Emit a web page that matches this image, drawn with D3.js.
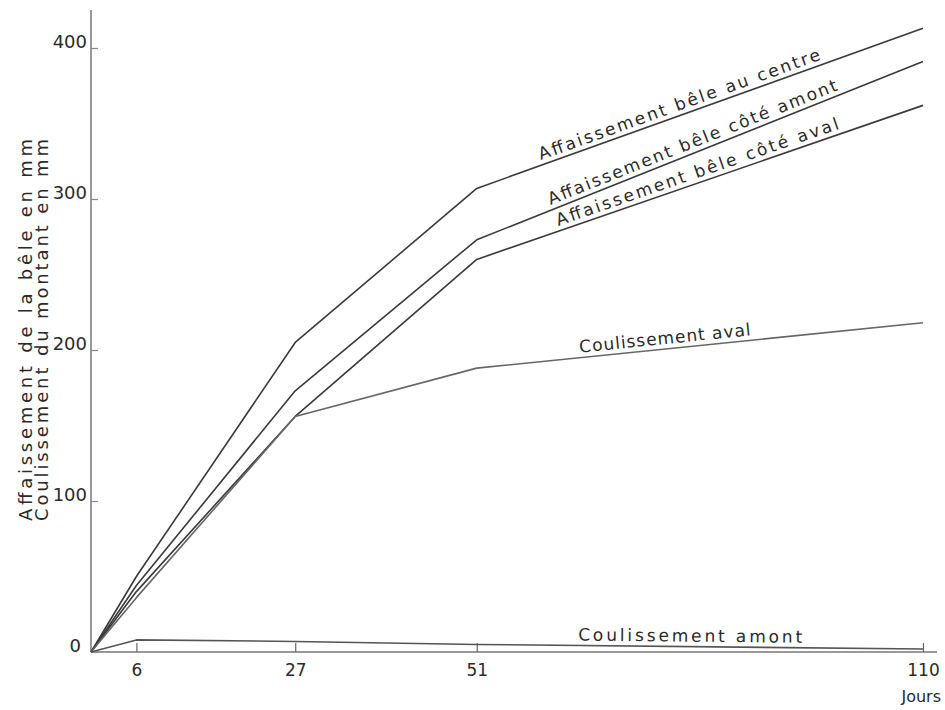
<!DOCTYPE html>
<html>
<head>
<meta charset="utf-8">
<script src="https://cdn.jsdelivr.net/npm/d3@7"></script>
<style>
  body { margin: 0; background: #fff; }
  svg text { font-family: "DejaVu Sans", sans-serif; fill: #2a2a2a; }
</style>
</head>
<body>
<div id="chart"></div>
<script>
// days on the x axis
const days = [0, 6, 27, 51, 110];
const xTicks = [6, 27, 51, 110];
const yTicks = [0, 100, 200, 300, 400];

// values in mm
const affCentre = [0, 50, 205, 307, 413];
const affAmont = [0, 44, 173, 273, 391];
const affAval = [0, 40, 156, 260, 362];
const coulAval = [0, 36, 156, 188, 218];
const coulAmont = [0, 8, 7, 5, 2];

const series = [
    { name: 'Affaissement bêle au centre', values: affCentre, color: '#3a3a3a', labelDay: 59.7, labelLen: 298 },
    { name: 'Affaissement bêle côté amont', values: affAmont, color: '#3a3a3a', labelDay: 61, labelLen: 310 },
    { name: 'Affaissement bêle côté aval', values: affAval, color: '#3a3a3a', labelDay: 62, labelLen: 298 },
    { name: 'Coulissement aval', values: coulAval, color: '#666', labelDay: 64.7, labelLen: 172 },
    { name: 'Coulissement amont', values: coulAmont, color: '#555', labelDay: 64.4, labelLen: 224 }
];

const width = 945, height = 710;
const svg = d3.select('#chart').append('svg')
    .attr('width', width)
    .attr('height', height);

const x = d3.scaleLinear().domain([0, 110]).range([91, 923]);
const y = d3.scaleLinear().domain([0, 400]).range([652, 48]);

// axes lines
svg.append('line')
    .attr('x1', x(0)).attr('x2', x(110) + 14)
    .attr('y1', y(0)).attr('y2', y(0))
    .attr('stroke', '#777').attr('stroke-width', 1.5);
svg.append('line')
    .attr('x1', x(0)).attr('x2', x(0))
    .attr('y1', y(0)).attr('y2', y(400) - 38)
    .attr('stroke', '#777').attr('stroke-width', 1.5);

// x axis
const xAxis = svg.append('g')
    .attr('transform', `translate(0,${y(0)})`)
    .call(d3.axisBottom(x).tickValues(xTicks).tickSize(-9).tickSizeOuter(0).tickPadding(12));
xAxis.select('.domain').remove();
xAxis.selectAll('.tick line').attr('stroke', '#666').attr('stroke-width', 1.2);
xAxis.selectAll('.tick text')
    .style('font-size', '17px')
    .attr('fill', '#2a2a2a');

svg.append('text')
    .attr('x', 941)
    .attr('y', 702)
    .attr('text-anchor', 'end')
    .style('font-size', '16px')
    .text('Jours');

// y axis
const yAxis = svg.append('g')
    .attr('transform', `translate(${x(0)},0)`)
    .call(d3.axisLeft(y).tickValues(yTicks).tickSize(-7).tickSizeOuter(0).tickPadding(4));
yAxis.select('.domain').remove();
yAxis.selectAll('.tick line').attr('stroke', '#888').attr('stroke-width', 1.2);
yAxis.selectAll('.tick text')
    .style('font-size', '18px')
    .attr('fill', '#2a2a2a')
    .attr('dy', '-1px')
    .attr('dx', d => d === 0 ? -6 : 0);

// y label, two lines
const yLabel = ['Affaissement de la bêle en mm', 'Coulissement du montant en mm'];
svg.selectAll('.y-label')
    .data(yLabel)
    .enter()
    .append('text')
    .attr('class', 'y-label')
    .attr('transform', (d, i) => `translate(${32 + i * 16},521) rotate(-90)`)
    .attr('textLength', 382)
    .attr('lengthAdjust', 'spacing')
    .style('font-size', '18px')
    .text(d => d);

// lines
const line = d3.line()
    .x((d, i) => x(days[i]))
    .y(d => y(d));

svg.selectAll('.serie')
    .data(series)
    .enter()
    .append('path')
    .attr('class', 'serie')
    .attr('d', d => line(d.values))
    .attr('fill', 'none')
    .attr('stroke', d => d.color)
    .attr('stroke-width', 1.6)
    .attr('stroke-linejoin', 'round');

// labels along the segment they sit on
series.forEach(s => {
    const i = d3.bisectRight(days, s.labelDay) - 1;
    const x0 = x(days[i]), y0 = y(s.values[i]);
    const x1 = x(days[i + 1]), y1 = y(s.values[i + 1]);
    const t = (x(s.labelDay) - x0) / (x1 - x0);
    const px = x0 + t * (x1 - x0);
    const py = y0 + t * (y1 - y0);
    const angle = Math.atan2(y1 - y0, x1 - x0) * 180 / Math.PI;
    svg.append('text')
        .attr('transform', `translate(${px},${py}) rotate(${angle})`)
        .attr('y', -5)
        .attr('textLength', s.labelLen)
        .attr('lengthAdjust', 'spacing')
        .style('font-size', '17px')
        .text(s.name);
});
</script>
</body>
</html>
